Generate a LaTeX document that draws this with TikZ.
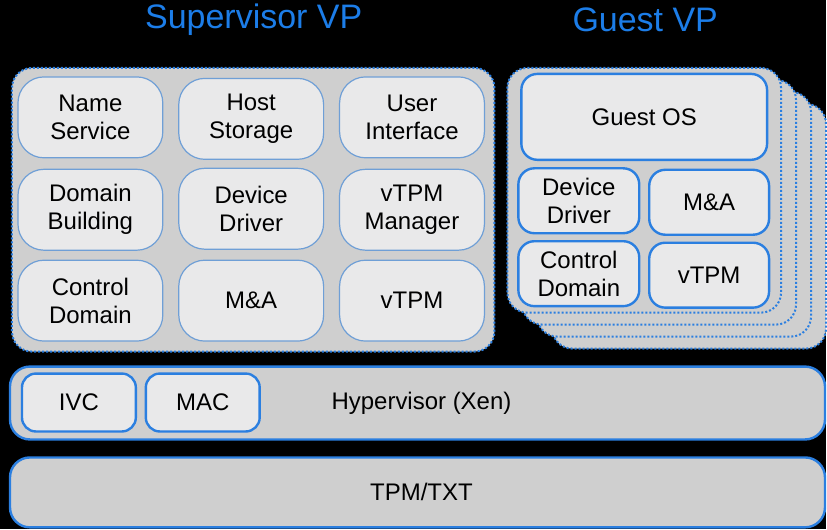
\documentclass[tikz,border=0pt]{standalone}
\usepackage{fontspec}
\setmainfont{Liberation Sans}
\usetikzlibrary{positioning}
\definecolor{panelgray}{HTML}{CFCFCF}
\definecolor{cellgray}{HTML}{E9E9EA}
\definecolor{lineblue}{HTML}{2B7FE0}
\definecolor{softblue}{HTML}{6F9FD6}
\definecolor{titleblue}{HTML}{1C7DE8}
\tikzset{x=1pt, y=-1pt, % One unit is one pixel of the layout.
  title/.style={ % Headings above the two VPs
    text=titleblue,
    font=\fontsize{34}{40}\selectfont},
  panel/.style={ % Dotted outer boxes
    draw=lineblue,
    fill=panelgray,
    line width=2pt,
    dash pattern={on 2pt off 2pt},
    rounded corners=20pt},
  svcell/.style={ % Services inside the supervisor VP
    draw=softblue,
    fill=cellgray,
    line width=1.2pt,
    rounded corners=26pt,
    align=center,
    minimum width=145pt, minimum height=81pt,
    font=\fontsize{24}{28}\selectfont},
  gvcell/.style={ % Services inside the guest VP
    draw=lineblue,
    fill=cellgray,
    line width=2.4pt,
    rounded corners=16pt,
    align=center,
    minimum width=121pt, minimum height=65pt,
    font=\fontsize{24}{28}\selectfont},
  layer/.style={ % Full width bars at the bottom
    draw=lineblue,
    fill=panelgray,
    line width=2.4pt,
    rounded corners=20pt,
    minimum width=816pt,
    font=\fontsize{24}{28}\selectfont}}

\begin{document}
\begin{tikzpicture}
  \fill[black] (0,0) rectangle (827,530);
  \node[title] (svt) at (254,20) {Supervisor VP};
  \node[title] (gvt) at (646,20) {Guest VP};
  % supervisor VP
  \node[panel, minimum width=483pt, minimum height=284pt] (svp) at (253.5,210) {};
  \node[svcell] (ns) at (90.5,117.5) {Name\\Service};
  \node[svcell] (hs) at (251.5,119) {Host\\Storage};
  \node[svcell] (ui) at (412.5,117.5) {User\\Interface};
  \node[svcell] (db) at (90.5,210) {Domain\\Building};
  \node[svcell] (dd) at (251.5,209) {Device\\Driver};
  \node[svcell] (vm) at (412.5,210) {vTPM\\Manager};
  \node[svcell] (cd) at (90.5,301) {Control\\Domain};
  \node[svcell] (ma) at (251.5,301) {M\&A};
  \node[svcell] (vt) at (412.5,301) {vTPM};
  % guest VP, stacked copies behind the front one
  \foreach \k in {3,2,1}
    \node[panel, minimum width=274pt, minimum height=245pt] (gvp\k) at (645+15*\k,190.5+12*\k) {};
  \node[panel, minimum width=274pt, minimum height=245pt] (gvp) at (645,190.5) {};
  \node[gvcell, minimum width=246pt, minimum height=86pt] (gos) at (645,117) {Guest OS};
  \node[gvcell] (gdd) at (579.5,201) {Device\\Driver};
  \node[gvcell, minimum width=120pt] (gma) at (710,202.5) {M\&A};
  \node[gvcell] (gcd) at (579.5,274) {Control\\Domain};
  \node[gvcell, minimum width=120pt] (gvt) at (710,275.5) {vTPM};
  % hypervisor and hardware
  \node[layer, minimum height=73pt] (hyp) at (418,403.5) {\hspace{8pt}Hypervisor (Xen)};
  \node[gvcell, minimum width=114pt, minimum height=58pt, rounded corners=14pt] (ivc) at (79,403) {IVC};
  \node[gvcell, minimum width=114pt, minimum height=58pt, rounded corners=14pt] (mac) at (203,403) {MAC};
  \node[layer, minimum height=70pt] (tpm) at (418,493) {\hspace{8pt}TPM/TXT};
\end{tikzpicture}
\end{document}
